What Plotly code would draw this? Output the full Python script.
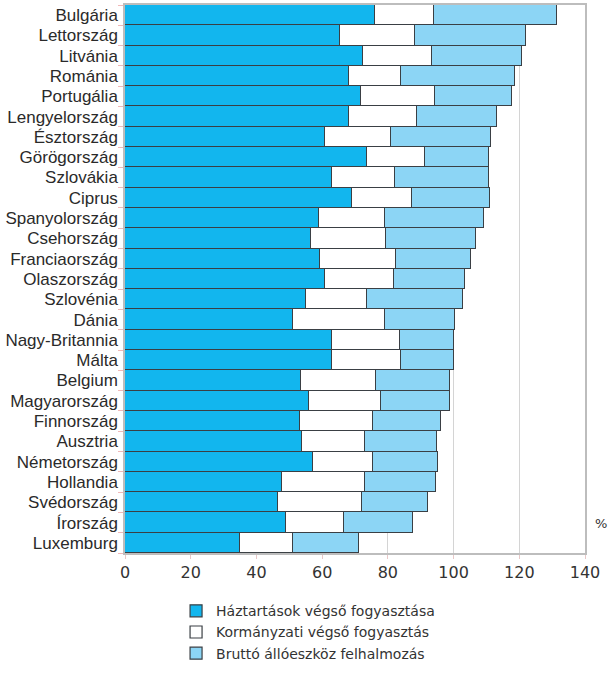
import plotly.graph_objects as go

countries = [
    "Bulgária", "Lettország", "Litvánia", "Románia", "Portugália",
    "Lengyelország", "Észtország", "Görögország", "Szlovákia", "Ciprus",
    "Spanyolország", "Csehország", "Franciaország", "Olaszország", "Szlovénia",
    "Dánia", "Nagy-Britannia", "Málta", "Belgium", "Magyarország",
    "Finnország", "Ausztria", "Németország", "Hollandia", "Svédország",
    "Írország", "Luxemburg",
]

# Share of GDP, %
households = [76.1, 65.4, 72.3, 68.1, 71.9, 68.1, 61.0, 73.7, 63.0, 69.2,
              59.1, 56.5, 59.2, 61.0, 55.1, 51.2, 63.0, 63.0, 53.5, 55.9,
              53.2, 53.9, 57.2, 47.9, 46.5, 49.1, 35.1]
government = [17.8, 22.9, 21.0, 16.0, 22.4, 20.7, 19.9, 17.5, 19.3, 18.2,
              20.0, 22.9, 23.4, 20.8, 18.6, 27.9, 20.6, 21.1, 23.0, 22.0,
              22.3, 19.2, 18.3, 25.2, 25.7, 17.5, 15.9]
gfcf = [37.5, 33.6, 27.6, 34.6, 23.4, 24.5, 30.6, 19.7, 28.5, 23.8,
        30.1, 27.3, 22.8, 21.6, 29.2, 21.4, 16.4, 15.9, 22.5, 21.1,
        20.8, 22.0, 19.7, 21.4, 19.9, 21.2, 20.3]

series_names = [
    "Háztartások végső fogyasztása",
    "Kormányzati végső fogyasztás",
    "Bruttó állóeszköz felhalmozás",
]
series_colors = ["#12B6EE", "#FFFFFF", "#8CD5F5"]
x_ticks = [0, 20, 40, 60, 80, 100, 120, 140]

fig = go.Figure()
for name, vals, col in zip(series_names, [households, government, gfcf], series_colors):
    fig.add_trace(go.Bar(
        y=countries, x=vals, name=name, orientation="h",
        marker=dict(color=col, line=dict(color="#3a3f44", width=1.2)),
    ))

fig.update_layout(
    width=609, height=674,
    margin=dict(l=125, r=24, t=5, b=117),
    barmode="stack", bargap=0,
    paper_bgcolor="white", plot_bgcolor="white",
    showlegend=True,
    legend=dict(
        orientation="v", x=0.111, xanchor="left", y=-0.077, yanchor="top",
        traceorder="normal",
        font=dict(family="DejaVu Sans", size=14, color="#333333"),
        itemwidth=30,
    ),
    xaxis=dict(
        range=[0, 140], tickvals=x_ticks, ticktext=[str(v) for v in x_ticks],
        showgrid=True, gridcolor="#d4d4d4", gridwidth=1,
        showline=True, linecolor="#bdbdbd", linewidth=1.5, mirror=True,
        ticks="outside", ticklen=4, tickcolor="#e8c8c8",
        tickfont=dict(family="DejaVu Sans", size=16, color="#333333"),
        zeroline=False, automargin=False,
    ),
    yaxis=dict(
        categoryorder="array", categoryarray=countries, autorange="reversed",
        tickmode="array", tickvals=countries,
        showline=True, linecolor="#bdbdbd", linewidth=1.5, mirror=True,
        ticks="outside", ticklen=5, tickcolor="#f0b8b8", tickson="boundaries",
        ticklabelstandoff=2,
        tickfont=dict(family="Liberation Sans, Arial, sans-serif",
                      size=17, color="#2a2a2a"),
        showgrid=False, automargin=False,
    ),
    annotations=[dict(
        text="%", xref="paper", yref="paper", x=1.052, xanchor="right",
        y=0.036, showarrow=False,
        font=dict(family="DejaVu Sans", size=13, color="#333333"),
    )],
)

fig.write_html("out.html")
